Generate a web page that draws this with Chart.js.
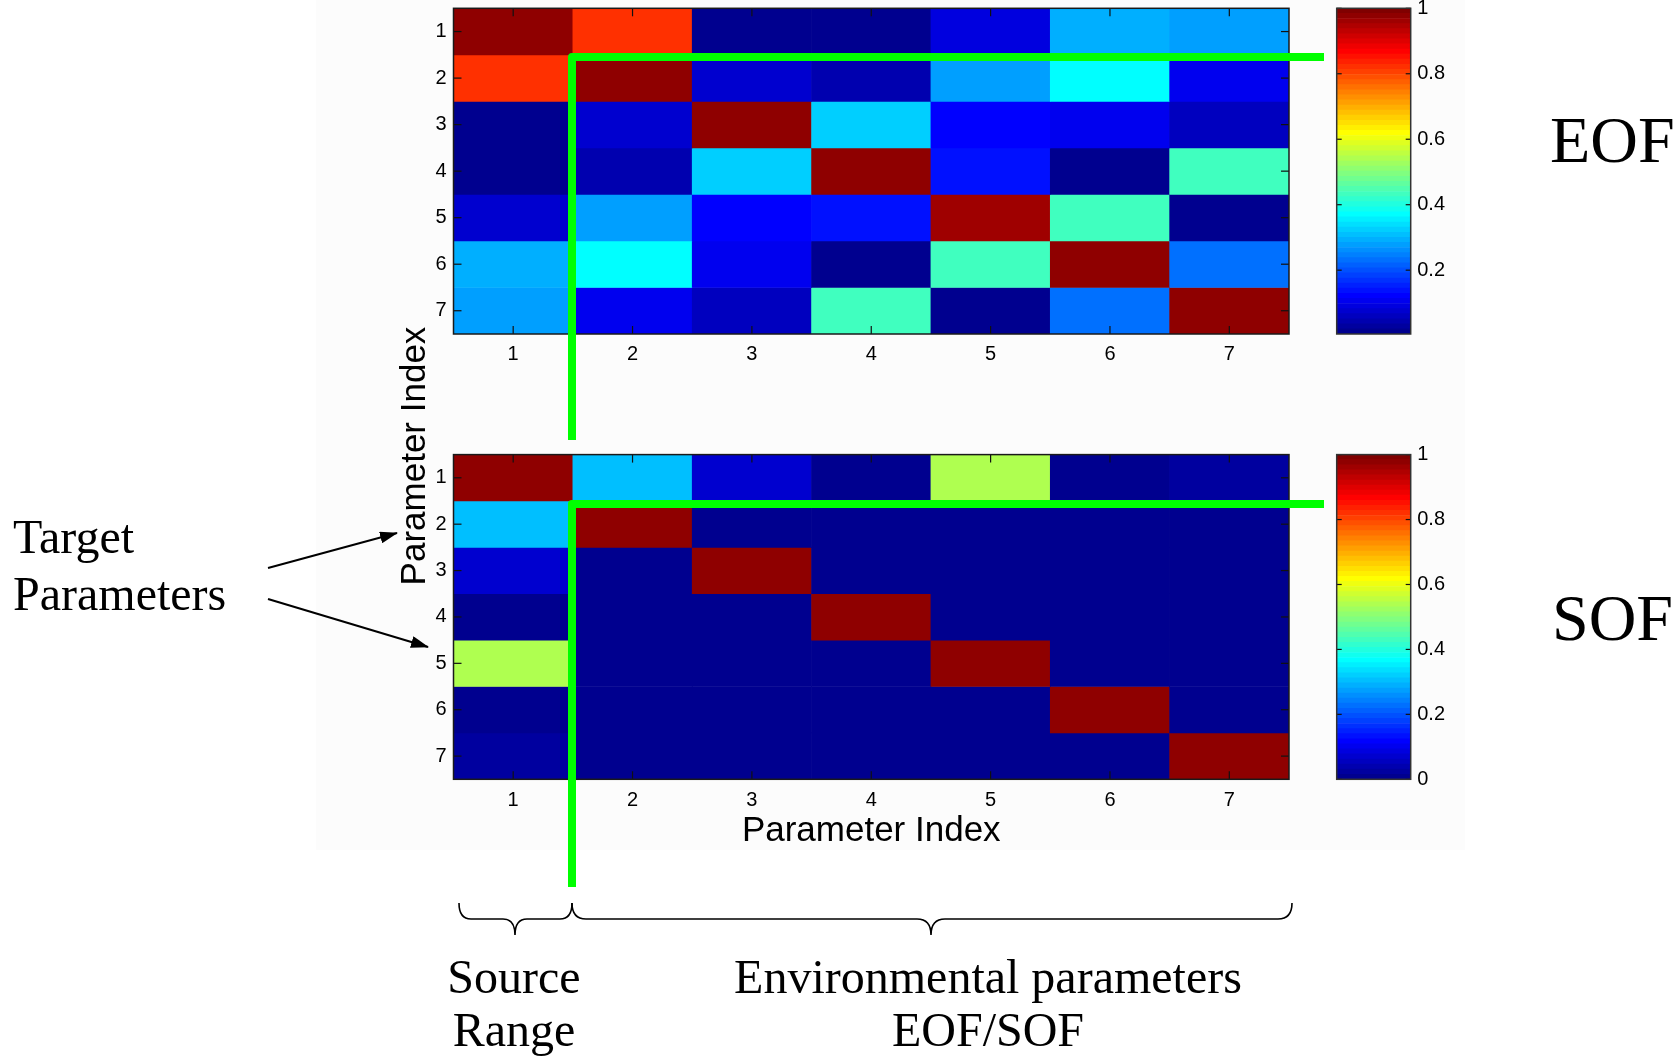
<!DOCTYPE html>
<html>
<head>
<meta charset="utf-8">
<script src="https://cdn.jsdelivr.net/npm/chart.js@4.4.1/dist/chart.umd.min.js"></script>
<style>
  html, body { margin: 0; padding: 0; background: #ffffff; }
  body { width: 1674px; height: 1058px; position: relative; overflow: hidden; }
  #panel { position: absolute; left: 316px; top: 0; width: 1149px; height: 850px; background: #fcfcfc; }
  canvas { position: absolute; }
  #notes { position: absolute; left: 0; top: 0; }
</style>
</head>
<body>
<div id="panel"></div>
<canvas id="eofMap"></canvas>
<canvas id="eofBar"></canvas>
<canvas id="sofMap"></canvas>
<canvas id="sofBar"></canvas>
<svg id="notes" width="1674" height="1058"></svg>

<script>
// ---- data ---------------------------------------------------------------
const PARAM_INDEX = [1, 2, 3, 4, 5, 6, 7];

// Parameter correlation, EOF parametrisation (row = parameter, column = parameter)
const EOF_VALUES = [
  [0.98,  0.82,  0.005, 0.005, 0.086, 0.289, 0.273],
  [0.82,  0.98,  0.07,  0.039, 0.273, 0.367, 0.10 ],
  [0.005, 0.07,  0.98,  0.32,  0.117, 0.10,  0.055],
  [0.005, 0.039, 0.32,  0.98,  0.133, 0.005, 0.43 ],
  [0.075, 0.273, 0.117, 0.133, 0.965, 0.43,  0.005],
  [0.289, 0.367, 0.10,  0.005, 0.43,  0.98,  0.227],
  [0.273, 0.10,  0.055, 0.43,  0.005, 0.227, 0.98 ]
];

// Parameter correlation, SOF parametrisation
const SOF_VALUES = [
  [0.98,  0.305, 0.07, 0,    0.54, 0,    0.023],
  [0.305, 0.98,  0,    0,    0,    0,    0    ],
  [0.07,  0,     0.98, 0,    0,    0,    0    ],
  [0,     0,     0,    0.98, 0,    0,    0    ],
  [0.54,  0,     0,    0,    0.98, 0,    0    ],
  [0,     0,     0,    0,    0,    0.98, 0    ],
  [0.03,  0,     0,    0,    0,    0,    0.98 ]
];

const EOF_RANGE = [0.005, 1];
const SOF_RANGE = [0, 1];
const EOF_BAR_TICKS = [1, 0.8, 0.6, 0.4, 0.2];
const SOF_BAR_TICKS = [1, 0.8, 0.6, 0.4, 0.2, 0];

// ---- jet colormap (64 levels) -------------------------------------------
const JET_LEVELS = 64;
function jetLevel(i) {               // i = 1..64
  const u = k => (k < 1 || k > 47) ? 0 : (k <= 16 ? k / 16 : (k <= 31 ? 1 : (48 - k) / 16));
  const r = i >= 25 ? u(i - 24) : 0;
  const g = (i >= 9 && i <= 55) ? u(i - 8) : 0;
  const b = i <= 39 ? u(i + 8) : 0;
  return `rgb(${Math.round(r * 255)},${Math.round(g * 255)},${Math.round(b * 255)})`;
}
function jetColor(v, range) {
  const t = (v - range[0]) / (range[1] - range[0]);
  const i = Math.min(JET_LEVELS, Math.max(1, Math.floor(t * JET_LEVELS) + 1));
  return jetLevel(i);
}

// ---- shared look ----------------------------------------------------------
Chart.defaults.font.family = '"Liberation Sans", Arial, sans-serif';
Chart.defaults.color = '#000000';
Chart.defaults.animation = false;
Chart.defaults.plugins.legend.display = false;
Chart.defaults.plugins.tooltip.enabled = false;

const TICK_FONT = { size: 20 };
const NO_GRID = { display: false, drawTicks: false };

// frame around the plot box with short inward tick marks
const boxTicks = {
  id: 'boxTicks',
  afterDraw(chart, args, opts) {
    const { ctx, chartArea: a, scales } = chart;
    const len = opts.length;
    ctx.save();
    ctx.strokeStyle = '#111111';
    ctx.lineWidth = 1.2;
    const seg = (x1, y1, x2, y2) => { ctx.beginPath(); ctx.moveTo(x1, y1); ctx.lineTo(x2, y2); ctx.stroke(); };
    if (opts.xTicks) {
      scales.x.ticks.forEach((t, i) => {
        const px = scales.x.getPixelForTick(i);
        seg(px, a.bottom, px, a.bottom - len);
        seg(px, a.top, px, a.top + len);
      });
    }
    scales.y.ticks.forEach(t => {
      const py = scales.y.getPixelForValue(t.value);
      seg(a.left, py, a.left + len, py);
      seg(a.right, py, a.right - len, py);
    });
    ctx.strokeStyle = opts.frame;
    ctx.lineWidth = 1.5;
    ctx.strokeRect(a.left, a.top, a.right - a.left, a.bottom - a.top);
    ctx.restore();
  }
};

// keep the plot box exactly where the layout puts it
function fixScaleSize(s, w, h) {
  if (w !== null) s.width = w;
  if (h !== null) s.height = h;
  s.paddingTop = 0; s.paddingBottom = 0; s.paddingLeft = 0; s.paddingRight = 0;
}

// place a canvas so that its chart area lands on the given page rectangle
function placeCanvas(id, area, axes) {
  const el = document.getElementById(id);
  const left = Math.floor(area.left - axes.left - 2);
  const top = Math.floor(area.top - 16);
  const width = Math.ceil(area.right + axes.right + 3 - left);
  const height = Math.ceil(area.bottom + axes.bottom + 16 - top);
  el.width = width; el.height = height;
  el.style.left = left + 'px'; el.style.top = top + 'px';
  el.style.width = width + 'px'; el.style.height = height + 'px';
  return {
    el,
    padding: {
      left: area.left - axes.left - left,
      top: area.top - top,
      right: left + width - area.right - axes.right,
      bottom: top + height - area.bottom - axes.bottom
    }
  };
}

function heatmap(id, area, values, range, xAxisH, labelPad, title) {
  const yAxisW = 60;
  const { el, padding } = placeCanvas(id, area, { left: yAxisW, right: 0, bottom: xAxisH });
  const datasets = values.map((row, r) => ({
    label: 'Parameter ' + PARAM_INDEX[r],
    data: row.map(() => [PARAM_INDEX[r] - 0.5, PARAM_INDEX[r] + 0.5]),
    backgroundColor: row.map(v => jetColor(v, range)),
    borderWidth: 0,
    barPercentage: 1,
    categoryPercentage: 1,
    grouped: false
  }));
  return new Chart(el, {
    type: 'bar',
    data: { labels: PARAM_INDEX.map(String), datasets },
    options: {
      responsive: false,
      layout: { padding },
      scales: {
        x: {
          type: 'category',
          grid: NO_GRID,
          border: { display: false },
          ticks: { font: TICK_FONT, padding: labelPad, maxRotation: 0 },
          title: title ? { display: true, text: title, font: { size: 35 }, padding: { top: 0, bottom: 0 } } : { display: false },
          afterFit: s => fixScaleSize(s, null, xAxisH)
        },
        y: {
          type: 'linear',
          min: PARAM_INDEX[0] - 0.5,
          max: PARAM_INDEX[PARAM_INDEX.length - 1] + 0.5,
          reverse: true,
          grid: NO_GRID,
          border: { display: false },
          ticks: { font: TICK_FONT, padding: 7, callback: v => String(v) },
          afterBuildTicks: s => { s.ticks = PARAM_INDEX.map(v => ({ value: v })); },
          afterFit: s => fixScaleSize(s, yAxisW, null)
        }
      },
      plugins: { boxTicks: { length: 8, xTicks: true, frame: '#1a1a1a' } }
    },
    plugins: [boxTicks]
  });
}

function colorbar(id, area, range, tickValues) {
  const axisW = 50;
  const { el, padding } = placeCanvas(id, area, { left: 0, right: axisW, bottom: 0 });
  const step = (range[1] - range[0]) / JET_LEVELS;
  const datasets = [];
  for (let k = 0; k < JET_LEVELS; k++) {
    datasets.push({
      data: [[range[0] + k * step, range[0] + (k + 1) * step]],
      backgroundColor: jetLevel(k + 1),
      borderWidth: 0,
      barPercentage: 1,
      categoryPercentage: 1,
      grouped: false
    });
  }
  return new Chart(el, {
    type: 'bar',
    data: { labels: [''], datasets },
    options: {
      responsive: false,
      layout: { padding },
      scales: {
        x: { type: 'category', display: false },
        y: {
          type: 'linear',
          position: 'right',
          min: range[0],
          max: range[1],
          grid: NO_GRID,
          border: { display: false },
          ticks: { font: TICK_FONT, padding: 6.5, callback: v => String(v) },
          afterBuildTicks: s => { s.ticks = tickValues.map(v => ({ value: v })); },
          afterFit: s => fixScaleSize(s, axisW, null)
        }
      },
      plugins: { boxTicks: { length: 5, xTicks: false, frame: '#333333' } }
    },
    plugins: [boxTicks]
  });
}

const EOF_AREA = { left: 453.5, top: 8.3, right: 1289, bottom: 334 };
const SOF_AREA = { left: 453.5, top: 454.6, right: 1289, bottom: 779.3 };
const EOF_BAR_AREA = { left: 1336.7, top: 8.3, right: 1410.7, bottom: 334 };
const SOF_BAR_AREA = { left: 1336.7, top: 454.6, right: 1410.7, bottom: 779.3 };

heatmap('eofMap', EOF_AREA, EOF_VALUES, EOF_RANGE, 40, 8, null);
heatmap('sofMap', SOF_AREA, SOF_VALUES, SOF_RANGE, 73.5, 9, 'Parameter Index');
colorbar('eofBar', EOF_BAR_AREA, EOF_RANGE, EOF_BAR_TICKS);
colorbar('sofBar', SOF_BAR_AREA, SOF_RANGE, SOF_BAR_TICKS);

// ---- annotations: partition lines, arrows, braces and captions ----------
const NS = 'http://www.w3.org/2000/svg';
const svg = document.getElementById('notes');
function add(tag, attrs, text, parent) {
  const n = document.createElementNS(NS, tag);
  for (const k in attrs) n.setAttribute(k, attrs[k]);
  if (text) n.textContent = text;
  (parent || svg).appendChild(n);
  return n;
}

const defs = add('defs', {});
const marker = add('marker', { id: 'head', markerWidth: 18, markerHeight: 12, refX: 17, refY: 6, orient: 'auto', markerUnits: 'userSpaceOnUse' }, null, defs);
add('path', { d: 'M0,0 L18,6 L0,12 Z', fill: '#000' }, null, marker);

// green partition between source range and environmental parameters
const GREEN = '#00ff00';
add('path', { d: 'M572,440 L572,57 L1324,57', fill: 'none', stroke: GREEN, 'stroke-width': 8, 'stroke-linejoin': 'round' });
add('path', { d: 'M572,887 L572,504 L1324,504', fill: 'none', stroke: GREEN, 'stroke-width': 8, 'stroke-linejoin': 'round' });

// arrows to the target parameters
add('line', { x1: 268, y1: 568, x2: 397, y2: 533, stroke: '#000', 'stroke-width': 2, 'marker-end': 'url(#head)' });
add('line', { x1: 268, y1: 599, x2: 428, y2: 647, stroke: '#000', 'stroke-width': 2, 'marker-end': 'url(#head)' });

// braces under the columns
function brace(xa, xm, xb, y0, y1, y2, r) {
  return `M${xa},${y0} Q${xa},${y1} ${xa + r},${y1} L${xm - r},${y1} Q${xm},${y1} ${xm},${y2} ` +
         `M${xm},${y2} Q${xm},${y1} ${xm + r},${y1} L${xb - r},${y1} Q${xb},${y1} ${xb},${y0}`;
}
add('path', { d: brace(459, 515, 572, 903, 919, 935, 12), fill: 'none', stroke: '#000', 'stroke-width': 1.6 });
add('path', { d: brace(572, 931, 1292, 903, 919, 935, 14), fill: 'none', stroke: '#000', 'stroke-width': 1.6 });

const SERIF = '"Liberation Serif", "Times New Roman", serif';
const SANS = '"Liberation Sans", Arial, sans-serif';
add('text', { x: 13, y: 553, 'font-family': SERIF, 'font-size': 48, fill: '#000' }, 'Target');
add('text', { x: 13, y: 610, 'font-family': SERIF, 'font-size': 48, fill: '#000' }, 'Parameters');
add('text', { x: 1550, y: 162, 'font-family': SERIF, 'font-size': 66, fill: '#000' }, 'EOF');
add('text', { x: 1552, y: 640, 'font-family': SERIF, 'font-size': 66, fill: '#000' }, 'SOF');
add('text', { x: 514, y: 993, 'font-family': SERIF, 'font-size': 48, 'text-anchor': 'middle', fill: '#000' }, 'Source');
add('text', { x: 514, y: 1046, 'font-family': SERIF, 'font-size': 48, 'text-anchor': 'middle', fill: '#000' }, 'Range');
add('text', { x: 988, y: 993, 'font-family': SERIF, 'font-size': 48, 'text-anchor': 'middle', fill: '#000' }, 'Environmental parameters');
add('text', { x: 988, y: 1046, 'font-family': SERIF, 'font-size': 48, 'text-anchor': 'middle', fill: '#000' }, 'EOF/SOF');

// shared y-axis caption of the two maps
add('text', { x: 412, y: 456, 'font-family': SANS, 'font-size': 35, 'text-anchor': 'middle', 'dominant-baseline': 'central', transform: 'rotate(-90 412 456)', fill: '#000' }, 'Parameter Index');
</script>
</body>
</html>
